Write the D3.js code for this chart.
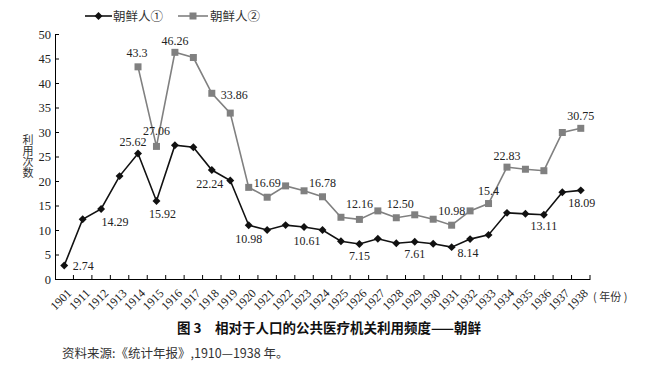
<!DOCTYPE html>
<html>
<head>
<meta charset="utf-8">
<script src="https://cdn.jsdelivr.net/npm/d3@7"></script>
<style>
  html, body { margin: 0; padding: 0; background: #fff; }
  svg { display: block; }
  .serif { font-family: "Liberation Serif", "Times New Roman", Times, "DejaVu Serif", serif; }
</style>
</head>
<body>
<svg id="chart" width="660" height="384"></svg>
<script>
// ---- Data ----
const categories = ["1901","1911","1912","1913","1914","1915","1916","1917","1918","1919",
  "1920","1921","1922","1923","1924","1925","1926","1927","1928","1929",
  "1930","1931","1932","1933","1934","1935","1936","1937","1938"];

const series1Name = "朝鲜人①";
const series1 = [2.74,12.2,14.29,21.0,25.62,15.92,27.3,26.9,22.24,20.1,
  10.98,10.0,11.0,10.61,10.0,7.7,7.15,8.2,7.3,7.61,
  7.2,6.5,8.14,9.0,13.5,13.3,13.11,17.7,18.09];

const series2Name = "朝鲜人②";
const series2 = [null,null,null,null,43.3,27.06,46.26,45.2,37.9,33.86,
  18.7,16.69,19.0,18.0,16.78,12.6,12.16,13.9,12.50,13.1,
  12.2,10.98,13.9,15.4,22.83,22.4,22.1,29.9,30.75];

const labels1 = [["1901","2.74"],["1912","14.29"],["1914","25.62"],["1915","15.92"],
  ["1918","22.24"],["1920","10.98"],["1923","10.61"],["1926","7.15"],["1929","7.61"],
  ["1932","8.14"],["1936","13.11"],["1938","18.09"]];
const labels2 = [["1914","43.3"],["1915","27.06"],["1916","46.26"],["1919","33.86"],
  ["1921","16.69"],["1924","16.78"],["1926","12.16"],["1928","12.50"],["1931","10.98"],
  ["1933","15.4"],["1934","22.83"],["1938","30.75"]];

const yTicks = [0,5,10,15,20,25,30,35,40,45,50];
const yTitle = "利用次数";
const xUnit = "( 年份 )";
const title = "图 3　相对于人口的公共医疗机关利用频度——朝鲜";
const source = "资料来源:《统计年报》,1910—1938 年。";

// ---- Layout ----
const svg = d3.select("#chart");
const L = 55, R = 590, T = 34, B = 279;
const cjk = "'Noto Sans CJK SC', sans-serif";

const x = d3.scaleBand().domain(categories).range([L, R]).padding(0);
const y = d3.scaleLinear().domain([0, 50]).range([B, T]);
const cx = c => x(c) + x.bandwidth() / 2;

// Y axis
const yAxis = svg.append("g").attr("transform", `translate(${L},0)`)
  .call(d3.axisLeft(y).tickValues(yTicks).tickSizeInner(-4).tickSizeOuter(0).tickPadding(4));
yAxis.attr("font-family", null).attr("font-size", null);
yAxis.select(".domain").attr("stroke", "#000");
yAxis.selectAll(".tick line").attr("stroke", "#000");
yAxis.selectAll("text").attr("class", "serif").attr("font-size", 12.5).attr("fill", "#222");

// X axis
const xAxis = svg.append("g").attr("transform", `translate(0,${B})`)
  .call(d3.axisBottom(x).tickSizeInner(-4).tickSizeOuter(0));
xAxis.attr("font-family", null).attr("font-size", null);
xAxis.select(".domain").attr("stroke", "#000");
xAxis.selectAll(".tick line").attr("stroke", "#000")
  .attr("transform", `translate(${x.bandwidth()/2},0)`);
xAxis.selectAll("text")
  .attr("class", "serif").attr("font-size", 12).attr("fill", "#222")
  .attr("text-anchor", "end")
  .attr("x", null).attr("y", null).attr("dy", null)
  .attr("transform", "translate(8,15) rotate(-45)");

// X unit label
svg.append("text").attr("x", R + 3).attr("y", B + 22)
  .attr("font-family", cjk).attr("font-size", 11).attr("fill", "#333")
  .text(xUnit);

// Y title (vertical)
svg.append("text").attr("x", 28).attr("y", 134)
  .attr("font-family", cjk).attr("font-size", 11).attr("fill", "#333")
  .style("writing-mode", "vertical-rl").style("text-orientation", "upright")
  .text(yTitle);

// Lines
const line = d3.line()
  .defined(d => d.v != null)
  .x(d => cx(d.c)).y(d => y(d.v));

const d1 = categories.map((c, i) => ({c, v: series1[i]}));
const d2 = categories.map((c, i) => ({c, v: series2[i]}));

const col1 = "#111", col2 = "#808080";

svg.append("path").datum(d2).attr("d", line)
  .attr("fill", "none").attr("stroke", col2).attr("stroke-width", 1.6);
svg.append("path").datum(d1).attr("d", line)
  .attr("fill", "none").attr("stroke", col1).attr("stroke-width", 1.6);

const sq = 7;
svg.append("g").selectAll("rect").data(d2.filter(d => d.v != null)).join("rect")
  .attr("x", d => cx(d.c) - sq/2).attr("y", d => y(d.v) - sq/2)
  .attr("width", sq).attr("height", sq).attr("fill", col2);

const diamond = d3.symbol().type(d3.symbolDiamond2).size(40);
svg.append("g").selectAll("path").data(d1).join("path")
  .attr("d", diamond)
  .attr("transform", d => `translate(${cx(d.c)},${y(d.v)})`)
  .attr("fill", col1);

// Data labels (center offsets relative to point)
const off1 = {"1901":[19,0],"1912":[14,13],"1914":[-5,-12],"1915":[6,12.5],"1918":[-2,13],
  "1920":[0,13],"1923":[3,13],"1926":[0,12],"1929":[0,12],"1932":[-2,13],"1936":[0,11],"1938":[1,12]};
const off2 = {"1914":[-1,-14],"1915":[0,-16],"1916":[0,-12],"1919":[4,-19],"1921":[0,-15],
  "1924":[0,-14],"1926":[0,-16],"1928":[4,-14],"1931":[0,-15],"1933":[0,-13],"1934":[0,-12],"1938":[0,-13]};

function drawLabels(labels, vals, off) {
  svg.append("g").selectAll("text").data(labels).join("text")
    .attr("class", "serif")
    .attr("x", d => cx(d[0]) + off[d[0]][0])
    .attr("y", d => y(vals[categories.indexOf(d[0])]) + off[d[0]][1] + 4.5)
    .attr("text-anchor", "middle")
    .attr("font-size", 12).attr("fill", "#222")
    .text(d => d[1]);
}
drawLabels(labels1, series1, off1);
drawLabels(labels2, series2, off2);

// Legend
const lg = svg.append("g");
lg.append("line").attr("x1", 85).attr("x2", 112).attr("y1", 16).attr("y2", 16)
  .attr("stroke", col1).attr("stroke-width", 1.6);
lg.append("path").attr("d", diamond).attr("transform", "translate(98.5,16)").attr("fill", col1);
lg.append("text").attr("x", 113).attr("y", 20.5).attr("font-family", cjk).attr("font-size", 12.5)
  .attr("fill", "#333").text(series1Name);
lg.append("line").attr("x1", 178).attr("x2", 208).attr("y1", 16).attr("y2", 16)
  .attr("stroke", col2).attr("stroke-width", 1.6);
lg.append("rect").attr("x", 193 - sq/2).attr("y", 16 - sq/2).attr("width", sq).attr("height", sq)
  .attr("fill", col2);
lg.append("text").attr("x", 210).attr("y", 20.5).attr("font-family", cjk).attr("font-size", 12.5)
  .attr("fill", "#333").text(series2Name);

// Title & source
svg.append("text").attr("x", 329).attr("y", 333).attr("text-anchor", "middle")
  .attr("font-family", cjk).attr("font-size", 13.5).attr("font-weight", "bold").attr("fill", "#111")
  .text(title);
svg.append("text").attr("x", 62).attr("y", 358)
  .attr("font-family", cjk).attr("font-size", 12.5).attr("fill", "#333")
  .text(source);
</script>
</body>
</html>
